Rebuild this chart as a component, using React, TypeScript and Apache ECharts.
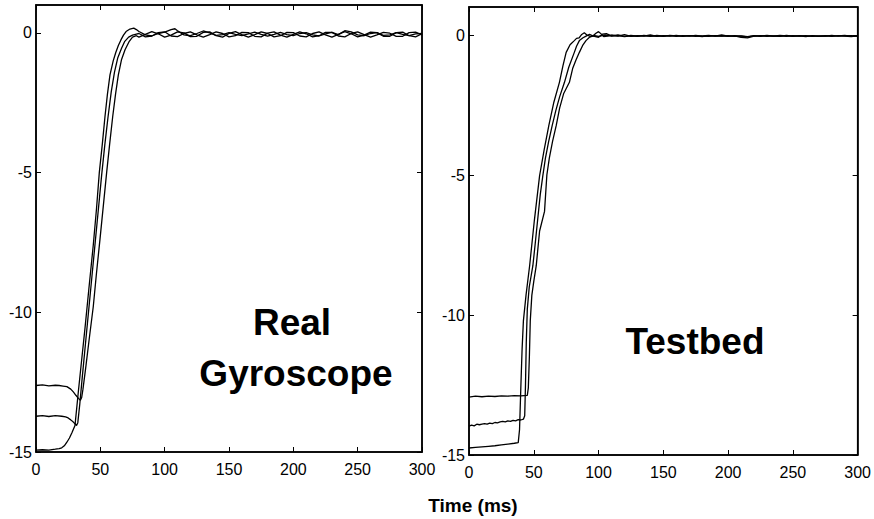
import React, { useEffect, useRef } from "react";
import * as echarts from "echarts";

// ---- data (time in ms, value) ----
const xTicks = [0, 50, 100, 150, 200, 250, 300];
const yTicks = [-15, -10, -5, 0];

const gyroA: number[][] = [
  [0, -12.62], [5, -12.6], [10, -12.63], [15, -12.61], [18, -12.62], [21, -12.64], [24, -12.66],
  [27, -12.75], [29, -12.85], [31, -12.97], [33, -13.08], [34.5, -13.15], [35.5, -13.05], [36.5, -12.75],
  [38.6, -12.0], [41.5, -10.9], [44.5, -9.8], [47, -8.6], [49.7, -7.4], [52.3, -6.2], [54.9, -5.0],
  [57.2, -4.0], [59.6, -3.0], [61.8, -2.2], [64, -1.5], [66.5, -0.95], [69.2, -0.6], [72.5, -0.3],
  [75, -0.15], [78, -0.1],
  [80, -0.15], [85, -0.05], [90, 0.05], [95, -0.03], [100, -0.15], [105, -0.08], [110, 0.04], [115, 0.0],
  [120, -0.13], [125, -0.12], [130, 0.02], [135, 0.04], [140, -0.1], [145, -0.15], [150, -0.02], [155, 0.05],
  [160, -0.06], [165, -0.15], [170, -0.06], [175, 0.04], [180, -0.02], [185, -0.14], [190, -0.1], [195, 0.02],
  [200, 0.01], [205, -0.11], [210, -0.14], [215, -0.02], [220, 0.04], [225, -0.07], [230, -0.15], [235, -0.05],
  [240, 0.05], [245, -0.03], [250, -0.14], [255, -0.08], [260, 0.03], [265, 0.01], [270, -0.12], [275, -0.12],
  [280, 0.01], [285, 0.03], [290, -0.1], [295, -0.14], [300, -0.03],
];

const gyroB: number[][] = [
  [0, -13.72], [5, -13.7], [10, -13.73], [15, -13.7], [20, -13.72], [23, -13.74], [25, -13.78], [27, -13.85],
  [29, -13.93], [30.5, -14.0], [31.5, -14.05], [32.5, -13.95], [34, -13.3], [36, -12.3], [38.5, -11.1],
  [41, -9.9], [43.5, -8.7], [46, -7.5], [48.5, -6.3], [51, -5.1], [53.5, -4.0], [56, -3.0], [58.5, -2.1],
  [61, -1.4], [63.5, -0.9], [66.5, -0.55], [69, -0.3], [72, -0.15], [75, -0.08], [78, -0.04],
  [80, -0.02], [85, -0.14], [90, -0.11], [95, 0.01], [100, 0.04], [105, -0.11], [110, -0.13], [115, -0.02],
  [120, 0.04], [125, -0.07], [130, -0.15], [135, -0.06], [140, 0.04], [145, -0.02], [150, -0.14], [155, -0.1],
  [160, 0.02], [165, 0.01], [170, -0.12], [175, -0.14], [180, -0.01], [185, 0.04], [190, -0.08], [195, -0.15],
  [200, -0.05], [205, 0.04], [210, -0.03], [215, -0.14], [220, -0.1], [225, 0.02], [230, 0.02], [235, -0.11],
  [240, -0.14], [245, -0.02], [250, 0.04], [255, -0.06], [260, -0.15], [265, -0.07], [270, 0.02], [275, -0.01],
  [280, -0.12], [285, -0.12], [290, 0.01], [295, 0.03], [300, -0.07],
];

const gyroC: number[][] = [
  [0, -14.93], [5, -14.92], [10, -14.93], [15, -14.9], [18, -14.88], [20, -14.85], [22, -14.78], [24, -14.65],
  [26, -14.5], [28, -14.3], [30.3, -14.05], [33, -12.8], [35.5, -11.7], [38, -10.6], [41, -9.2], [44.5, -7.6],
  [47, -6.3], [49.2, -5.0], [51.5, -4.0], [53.6, -3.0], [55.5, -2.2], [57.5, -1.5], [60, -1.0], [62, -0.7],
  [64, -0.45], [66, -0.25], [68, -0.08], [70, 0.05], [73, 0.14], [76, 0.17], [78, 0.12],
  [80, 0.05], [85, -0.07], [90, -0.11], [95, -0.02], [100, 0.03], [105, 0.12], [108, 0.15], [110, 0.08],
  [115, -0.07], [120, -0.1], [125, -0.02], [130, 0.07], [135, 0.0], [140, -0.09], [145, -0.06], [150, 0.01],
  [155, -0.05], [160, -0.1], [165, -0.03], [170, 0.03], [175, -0.05], [180, -0.11], [185, -0.05], [190, 0.02],
  [195, -0.06], [200, -0.1], [205, -0.02], [210, 0.01], [215, -0.07], [220, -0.11], [225, -0.03], [230, 0.02],
  [235, -0.06], [240, 0.08], [245, 0.04], [250, -0.07], [255, -0.1], [260, -0.02], [265, 0.01], [270, -0.09],
  [275, -0.07], [280, 0.01], [285, -0.05], [290, -0.1], [295, -0.03], [300, -0.02],
];

const testA: number[][] = [
  [0, -12.93], [5, -12.9], [10, -12.92], [15, -12.9], [20, -12.91], [25, -12.89], [30, -12.9], [35, -12.88],
  [40, -12.89], [45, -12.87], [45.8, -12.6], [46.6, -11.5], [47.3, -10.2], [48.5, -9.3], [50, -8.8],
  [51.9, -8.24], [54.5, -7.0], [58.3, -6.3], [60.1, -5.0], [62, -4.4], [64.5, -3.8], [67.3, -3.24], [70, -2.6],
  [73, -2.1], [77.5, -1.69], [80, -1.2], [82.5, -0.9], [85.2, -0.62], [88, -0.35], [90.3, -0.2], [93, -0.08],
  [96, -0.02], [98, 0.06], [100, 0.12], [102, 0.04], [104, -0.06], [107, -0.04], [110, 0.0], [115, -0.04],
  [120, 0.01], [125, -0.05], [130, -0.02], [135, -0.04], [140, 0.0], [145, -0.05], [150, -0.02], [155, -0.04],
  [160, -0.01], [165, -0.05], [170, -0.02], [175, -0.03], [180, -0.06], [185, -0.02], [190, -0.04], [195, 0.0],
  [200, -0.04], [205, -0.03], [210, -0.08], [215, -0.1], [220, -0.04], [225, -0.02], [230, -0.05], [235, -0.03],
  [240, -0.05], [245, -0.01], [250, -0.04], [255, -0.03], [260, -0.06], [265, -0.02], [270, -0.04], [275, -0.03],
  [280, -0.05], [285, -0.02], [290, -0.04], [295, -0.06], [300, -0.03],
];

const testB: number[][] = [
  [0, -13.97], [2, -13.93], [4, -13.96], [6, -13.9], [8, -13.92], [10, -13.9], [12, -13.88], [14, -13.9],
  [16, -13.86], [18, -13.88], [20, -13.84], [22, -13.85], [24, -13.82], [26, -13.8], [28, -13.82], [30, -13.78],
  [32, -13.8], [34, -13.76], [36, -13.78], [38, -13.74], [40, -13.75], [42, -13.72], [43, -13.6], [43.6, -12.5],
  [44.2, -11.0], [45, -9.8], [46.5, -9.0], [49.3, -8.24], [51, -7.5], [53, -6.6], [55, -5.7], [57, -5.02],
  [59, -4.4], [61.5, -3.8], [64.2, -3.24], [67, -2.7], [70, -2.2], [73.7, -1.69], [77, -1.15], [81.3, -0.62],
  [83, -0.4], [85.2, -0.2], [88, -0.1], [90, -0.05], [93, 0.02], [96, -0.04], [100, -0.08], [103, 0.03],
  [106, 0.05], [110, -0.03], [115, 0.0], [120, -0.05], [125, -0.01], [130, -0.04], [135, -0.02], [140, -0.05],
  [145, -0.01], [150, -0.04], [155, -0.02], [160, -0.05], [165, -0.02], [170, -0.04], [175, -0.01], [180, -0.04],
  [185, -0.05], [190, -0.02], [195, -0.04], [200, -0.02], [205, -0.05], [210, -0.03], [215, -0.06], [220, -0.02],
  [225, -0.04], [230, -0.01], [235, -0.04], [240, -0.03], [245, -0.05], [250, -0.02], [255, -0.04], [260, -0.02],
  [265, -0.05], [270, -0.03], [275, -0.04], [280, -0.01], [285, -0.04], [290, -0.03], [295, -0.02], [300, -0.05],
];

const testC: number[][] = [
  [0, -14.75], [5, -14.73], [10, -14.71], [15, -14.69], [20, -14.67], [25, -14.64], [30, -14.61], [35, -14.58],
  [38, -14.56], [39, -14.1], [40, -12.6], [41, -11.2], [42, -10.2], [44, -9.3], [46.8, -8.24], [50.5, -6.6],
  [54.5, -5.02], [58, -4.1], [61.6, -3.24], [65.5, -2.4], [69.8, -1.69], [72.5, -1.1], [75, -0.62], [78, -0.35],
  [81.3, -0.2], [83, -0.12], [85, -0.1], [87, 0.02], [89, 0.08], [91, 0.0], [94, -0.06], [97, -0.02],
  [100, -0.05], [105, 0.0], [110, -0.04], [115, -0.02], [120, -0.06], [125, -0.03], [130, -0.05], [135, -0.01],
  [140, -0.04], [145, -0.03], [150, -0.05], [155, -0.01], [160, -0.03], [165, -0.04], [170, -0.02], [175, -0.05],
  [180, -0.03], [185, -0.01], [190, -0.04], [195, -0.03], [200, -0.05], [205, -0.02], [210, -0.04], [215, -0.07],
  [220, -0.03], [225, -0.05], [230, -0.02], [235, -0.04], [240, -0.01], [245, -0.03], [250, -0.05], [255, -0.02],
  [260, -0.04], [265, -0.03], [270, -0.05], [275, -0.02], [280, -0.04], [285, -0.03], [290, -0.01], [295, -0.04],
  [300, -0.03],
];

const panelLabels = { left: ["Real", "Gyroscope"], right: "Testbed", xTitle: "Time (ms)" };

const FONT = '"Liberation Sans", Arial, Helvetica, sans-serif';

function xAxis(gridIndex: number, position: "bottom" | "top", labels: boolean) {
  return {
    type: "value",
    gridIndex,
    position,
    min: 0,
    max: 300,
    interval: 50,
    axisLine: { show: true, onZero: false, lineStyle: { color: "#000", width: 1.5 } },
    axisTick: { show: true, inside: true, length: 5, lineStyle: { color: "#000", width: 1 } },
    axisLabel: {
      show: labels,
      color: "#000",
      fontSize: 16,
      fontFamily: FONT,
      margin: 9,
      customValues: xTicks,
    },
    splitLine: { show: false },
  };
}

function yAxis(gridIndex: number, position: "left" | "right", labels: boolean) {
  return {
    type: "value",
    gridIndex,
    position,
    min: -15,
    max: 1,
    interval: 5,
    axisLine: { show: true, onZero: false, lineStyle: { color: "#000", width: 1.5 } },
    axisTick: { show: true, inside: true, length: 5, customValues: yTicks, lineStyle: { color: "#000", width: 1 } },
    axisLabel: {
      show: labels,
      color: "#000",
      fontSize: 16,
      fontFamily: FONT,
      margin: 4,
      customValues: yTicks,
    },
    splitLine: { show: false },
  };
}

function line(data: number[][], axisIndex: number) {
  return {
    type: "line",
    xAxisIndex: axisIndex,
    yAxisIndex: axisIndex,
    data,
    showSymbol: false,
    symbol: "none",
    clip: true,
    lineStyle: { color: "#000", width: 1.3 },
    emphasis: { disabled: true },
  };
}

function label(text: string, x: number, y: number, size: number) {
  return {
    type: "text",
    x,
    y,
    style: { text, fill: "#000", fontSize: size, fontWeight: "bold", fontFamily: FONT, align: "center", verticalAlign: "middle" },
  };
}

export default function App() {
  const ref = useRef<HTMLDivElement>(null);
  useEffect(() => {
    if (!ref.current) return;
    const chart = echarts.init(ref.current, undefined, { renderer: "svg" });
    chart.setOption({
      animation: false,
      backgroundColor: "#fff",
      grid: [
        { left: 36, top: 5, width: 386, height: 447, show: true, borderColor: "#000", borderWidth: 1.5 },
        { left: 469, top: 7, width: 391, height: 448, show: true, borderColor: "#000", borderWidth: 1.5 },
      ],
      xAxis: [xAxis(0, "bottom", true), xAxis(1, "bottom", true), xAxis(0, "top", false), xAxis(1, "top", false)],
      yAxis: [yAxis(0, "left", true), yAxis(1, "left", true), yAxis(0, "right", false), yAxis(1, "right", false)],
      series: [
        line(gyroA, 0),
        line(gyroB, 0),
        line(gyroC, 0),
        line(testA, 1),
        line(testB, 1),
        line(testC, 1),
      ],
      graphic: [
        label(panelLabels.left[0], 292, 322, 37),
        label(panelLabels.left[1], 296, 373, 37),
        label(panelLabels.right, 695, 341, 37),
        label(panelLabels.xTitle, 473, 505, 19),
      ],
    });
    return () => chart.dispose();
  }, []);
  return <div ref={ref} style={{ position: "absolute", left: 0, top: 0, width: 874, height: 519, background: "#fff" }} />;
}
